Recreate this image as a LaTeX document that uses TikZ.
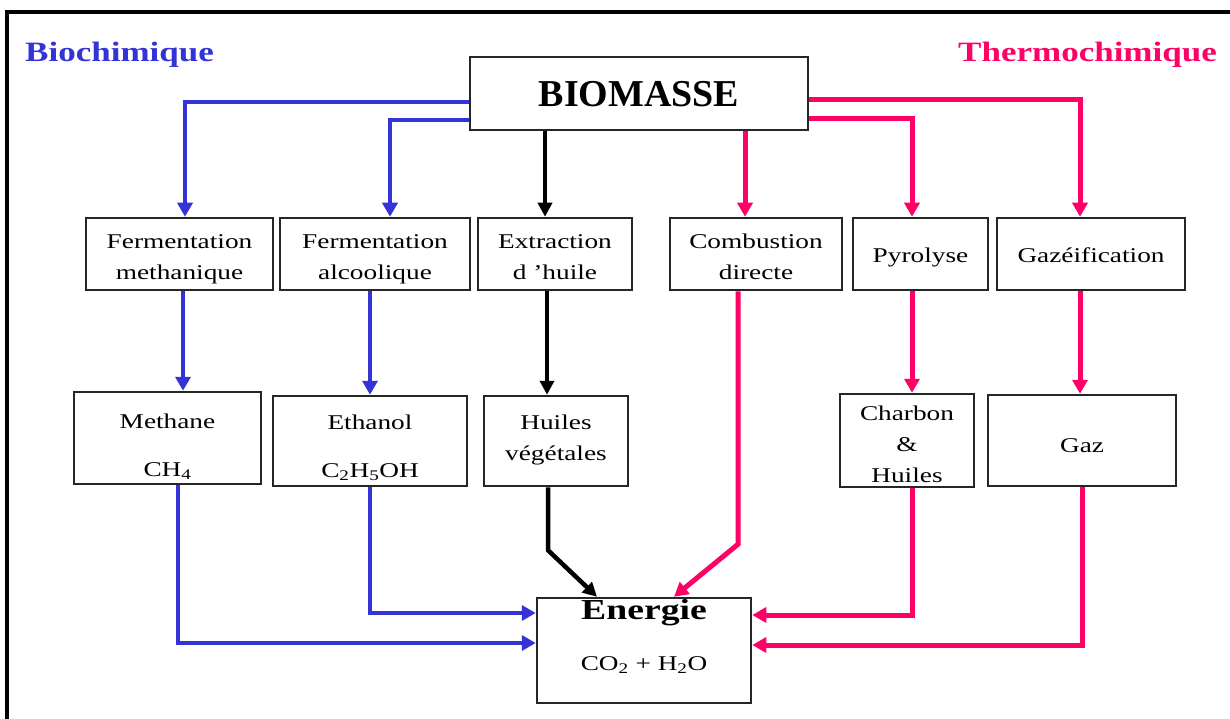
\documentclass[tikz,border=0pt]{standalone}
\usepackage{fontspec}
\setmainfont{Liberation Serif}
\newfontfamily\rf[FakeStretch=1.3]{Liberation Serif}
\newfontfamily\hf[FakeStretch=1.25]{Liberation Serif}
\usetikzlibrary{arrows.meta}
\definecolor{bioblue}{RGB}{51,51,214}
\definecolor{thermopink}{RGB}{255,0,102}
\newcommand{\Hs}[1]{\rule{0pt}{#1pt}}
\newcommand{\Ds}[1]{\rule[-#1pt]{0pt}{#1pt}}
\tikzset{
  box/.style={draw=black!85, line width=2.5pt, inner sep=0pt, align=center,
    font=\rf\fontsize{21}{31}\selectfont},
  bl/.style={line width=4pt, draw=bioblue, -{Triangle[width=15pt,length=14pt]}},
  pk/.style={line width=5pt, draw=thermopink, -{Triangle[width=15pt,length=14pt]}},
  bk/.style={line width=4.5pt, draw=black, -{Triangle[width=14pt,length=14pt]}},
  title/.style={inner sep=0pt, font=\hf\bfseries\fontsize{28}{28}\selectfont}
}
\begin{document}
\begin{tikzpicture}[x=1pt,y=-1pt]
\useasboundingbox (0,0) rectangle (1230,719);
\fill[white] (0,0) rectangle (1230,719);
\draw[line width=4pt] (7,719) -- (7,12) -- (1230,12);

\node[title, anchor=base west, text=bioblue] (tbio) at (25,62) {Biochimique};
\node[title, anchor=base east, text=thermopink] (tthermo) at (1217,62) {Thermochimique};

\node[box, minimum width=338pt, minimum height=73pt,
  font=\fontsize{38}{38}\selectfont\bfseries] (bio) at (639,93.5) {\Hs{30}BIOMASSE\Ds{3}};

% row 1
\node[box, minimum width=187pt, minimum height=72pt] (fm) at (179.5,254) {\Hs{24}Fermentation\\methanique\Ds{5}};
\node[box, minimum width=190pt, minimum height=72pt] (fa) at (375,254) {\Hs{24}Fermentation\\alcoolique\Ds{5}};
\node[box, minimum width=154pt, minimum height=72pt] (ex) at (555,254) {\Hs{24}Extraction\\d ’huile\Ds{5}};
\node[box, minimum width=172pt, minimum height=72pt] (co) at (756,254) {\Hs{24}Combustion\\directe\Ds{5}};
\node[box, minimum width=135pt, minimum height=72pt] (py) at (920.5,254) {\Hs{21}Pyrolyse\Ds{5}};
\node[box, minimum width=188pt, minimum height=72pt] (gf) at (1091,254) {\Hs{21}Gazéification\Ds{5}};

% row 2
\node[box, minimum width=187pt, minimum height=92pt, font=\rf\fontsize{21}{48}\selectfont] (me) at (167.5,438) {\Hs{35}Methane\\CH\textsubscript{4}\Ds{7}};
\node[box, minimum width=194pt, minimum height=90pt, font=\rf\fontsize{21}{48}\selectfont] (et) at (370,441) {\Hs{31}Ethanol\\C\textsubscript{2}H\textsubscript{5}OH\Ds{7}};
\node[box, minimum width=144pt, minimum height=90pt] (hv) at (556,441) {\Hs{16}Huiles\\végétales\Ds{9}};
\node[box, minimum width=134pt, minimum height=91pt] (ch) at (907,440.5) {\Hs{26}Charbon\\\&\\Huiles\Ds{5}};
\node[box, minimum width=188pt, minimum height=91pt] (gz) at (1082,440.5) {\Hs{28}Gaz\Ds{5}};

% energie
\node[box, minimum width=214pt, minimum height=105pt, font=\rf\fontsize{21}{51}\selectfont] (en) at (644,650.5)
  {{\bfseries\fontsize{29}{29}\selectfont Energie}\\CO\textsubscript{2} + H\textsubscript{2}O\Ds{32}};

% biomasse -> row 1
\draw[bl] ([yshift=-8.5pt]bio.west) -| ([xshift=5.5pt]fm.north);
\draw[bl] ([yshift=-26.5pt]bio.west) -| ([xshift=15pt]fa.north);
\draw[bk] ([xshift=-94pt]bio.south) -- ([xshift=-10pt]ex.north);
\draw[pk] ([xshift=106pt]bio.south) -- ([xshift=-11pt]co.north);
\draw[pk] ([yshift=-25.5pt]bio.east) -| ([xshift=-8.5pt]py.north);
\draw[pk] ([yshift=-6.5pt]bio.east) -| ([xshift=-11pt]gf.north);

% row 1 -> row 2
\draw[bl] ([xshift=3.5pt]fm.south) -- ([xshift=15.5pt]me.north);
\draw[bl] ([xshift=-5pt]fa.south) -- (et.north);
\draw[bk] ([xshift=-8pt]ex.south) -- ([xshift=-9pt]hv.north);
\draw[pk] ([xshift=-8.5pt]py.south) -- ([xshift=5pt]ch.north);
\draw[pk] ([xshift=-11pt]gf.south) -- ([xshift=-2pt]gz.north);

% row 2 -> energie
\draw[bl] ([xshift=10.5pt]me.south) |- ([yshift=7.5pt]en.west);
\draw[bl] (et.south) |- ([yshift=37.5pt]en.west);
\draw[bk] ([xshift=-8pt]hv.south) -- ++(0,63) -- ([xshift=-47pt]en.north);
\draw[pk] ([xshift=-18pt]co.south) -- ++(0,253) -- ([xshift=30pt]en.north);
\draw[pk] ([xshift=5pt]ch.south) |- ([yshift=35.5pt]en.east);
\draw[pk] (gz.south) |- ([yshift=5.5pt]en.east);
\end{tikzpicture}
\end{document}
